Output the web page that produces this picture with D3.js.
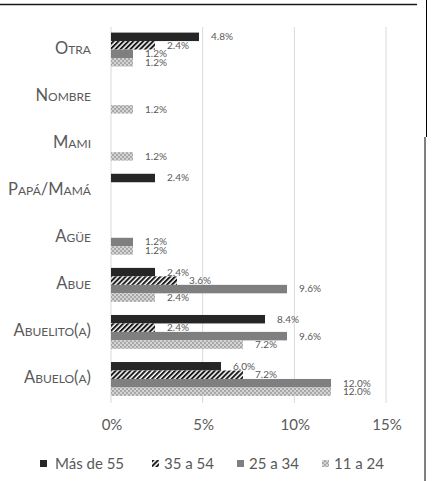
<!DOCTYPE html>
<html>
<head>
<meta charset="utf-8">
<script src="https://cdn.jsdelivr.net/npm/d3@7"></script>
<style>
  body { margin: 0; background: #fff; }
  text { font-family: Lato, "Open Sans", sans-serif; fill: #595959; }
</style>
</head>
<body>
<div id="chart"></div>
<script>
const categories = ["Otra", "Nombre", "Mami", "Papá/Mamá", "Agüe", "Abue", "Abuelito(a)", "Abuelo(a)"];
const seriesNames = ["Más de 55", "35 a 54", "25 a 34", "11 a 24"];
const mas55 = [4.8, 0, 0, 2.4, 0, 2.4, 8.4, 6.0];
const de35a54 = [2.4, 0, 0, 0, 0, 3.6, 2.4, 7.2];
const de25a34 = [1.2, 0, 0, 0, 1.2, 9.6, 9.6, 12.0];
const de11a24 = [1.2, 1.2, 1.2, 0, 1.2, 2.4, 7.2, 12.0];
const xTicks = [0, 5, 10, 15];

const seriesValues = [mas55, de35a54, de25a34, de11a24];
const fills = ["#262626", "url(#hatch)", "#7f7f7f", "url(#dots)"];

const W = 433, H = 481;
const svg = d3.select("#chart").append("svg").attr("width", W).attr("height", H);

// patterns
const defs = svg.append("defs");
const hatch = defs.append("pattern")
  .attr("id", "hatch").attr("patternUnits", "userSpaceOnUse")
  .attr("width", 3.5).attr("height", 3.5)
  .attr("patternTransform", "rotate(45)");
hatch.append("rect").attr("width", 3.5).attr("height", 3.5).attr("fill", "#fff");
hatch.append("rect").attr("width", 2).attr("height", 3.5).attr("fill", "#1a1a1a");

const dots = defs.append("pattern")
  .attr("id", "dots").attr("patternUnits", "userSpaceOnUse")
  .attr("width", 4).attr("height", 4);
dots.append("rect").attr("width", 4).attr("height", 4).attr("fill", "#a8a8a8");
dots.append("rect").attr("width", 2).attr("height", 2).attr("fill", "#d4d4d4");
dots.append("rect").attr("x", 2).attr("y", 2).attr("width", 2).attr("height", 2).attr("fill", "#d4d4d4");

const x = d3.scaleLinear().domain([0, 15]).range([111, 386]);
const y = d3.scaleBand().domain(categories).range([26, 402.5])
  .paddingInner(0.28).paddingOuter(0.14);
const yInner = d3.scaleBand().domain(d3.range(4)).range([0, y.bandwidth()]);

// gridlines
svg.append("g").selectAll("line")
  .data(xTicks)
  .join("line")
  .attr("x1", (d) => x(d)).attr("x2", (d) => x(d))
  .attr("y1", 27).attr("y2", 403)
  .attr("stroke", "#d9d9d9").attr("stroke-width", 1);

// x tick labels
svg.append("g").selectAll("text")
  .data(xTicks)
  .join("text")
  .attr("x", (d) => x(d) + 1)
  .attr("y", 430)
  .attr("text-anchor", "middle")
  .style("font-size", "15px")
  .text((d) => d + "%");

// category labels
svg.append("g").selectAll("text")
  .data(categories)
  .join("text")
  .attr("x", 91)
  .attr("y", (d) => y(d) + y.bandwidth() / 2 + 4)
  .attr("text-anchor", "end")
  .style("font-size", "16.5px")
  .style("font-variant", "small-caps")
  .text((d) => d);

// bars
const rows = [];
categories.forEach((c, ci) => {
  seriesValues.forEach((vals, si) => {
    if (vals[ci] > 0) rows.push({ cat: c, s: si, v: vals[ci] });
  });
});

svg.append("g").selectAll("rect")
  .data(rows)
  .join("rect")
  .attr("x", x(0))
  .attr("y", (d) => y(d.cat) + yInner(d.s))
  .attr("width", (d) => x(d.v) - x(0))
  .attr("height", yInner.bandwidth())
  .attr("fill", (d) => fills[d.s]);

svg.append("g").selectAll("text")
  .data(rows)
  .join("text")
  .attr("x", (d) => x(d.v) + 12)
  .attr("y", (d) => y(d.cat) + yInner(d.s) + yInner.bandwidth() / 2 + 3.4)
  .style("font-size", "10px")
  .text((d) => d.v.toFixed(1) + "%");

// legend
const legendX = [40, 152, 237, 322];
const legend = svg.append("g").selectAll("g")
  .data(seriesNames)
  .join("g")
  .attr("transform", (d, i) => `translate(${legendX[i]},460)`);
legend.append("rect")
  .attr("width", 7).attr("height", 7)
  .attr("fill", (d, i) => fills[i]);
legend.append("text")
  .attr("x", (d, i) => (i === 0 ? 15 : 12))
  .attr("y", 9)
  .style("font-size", "15px")
  .text((d) => d);

// frame lines from the screenshot
svg.append("line").attr("x1", 0).attr("x2", 417).attr("y1", 4.5).attr("y2", 4.5)
  .attr("stroke", "#1a1a1a").attr("stroke-width", 1.5);
svg.append("line").attr("x1", 426.5).attr("x2", 426.5).attr("y1", 0).attr("y2", 137)
  .attr("stroke", "#000").attr("stroke-width", 1);
svg.append("line").attr("x1", 425).attr("x2", 425).attr("y1", 137).attr("y2", H)
  .attr("stroke", "#000").attr("stroke-width", 1);
</script>
</body>
</html>
